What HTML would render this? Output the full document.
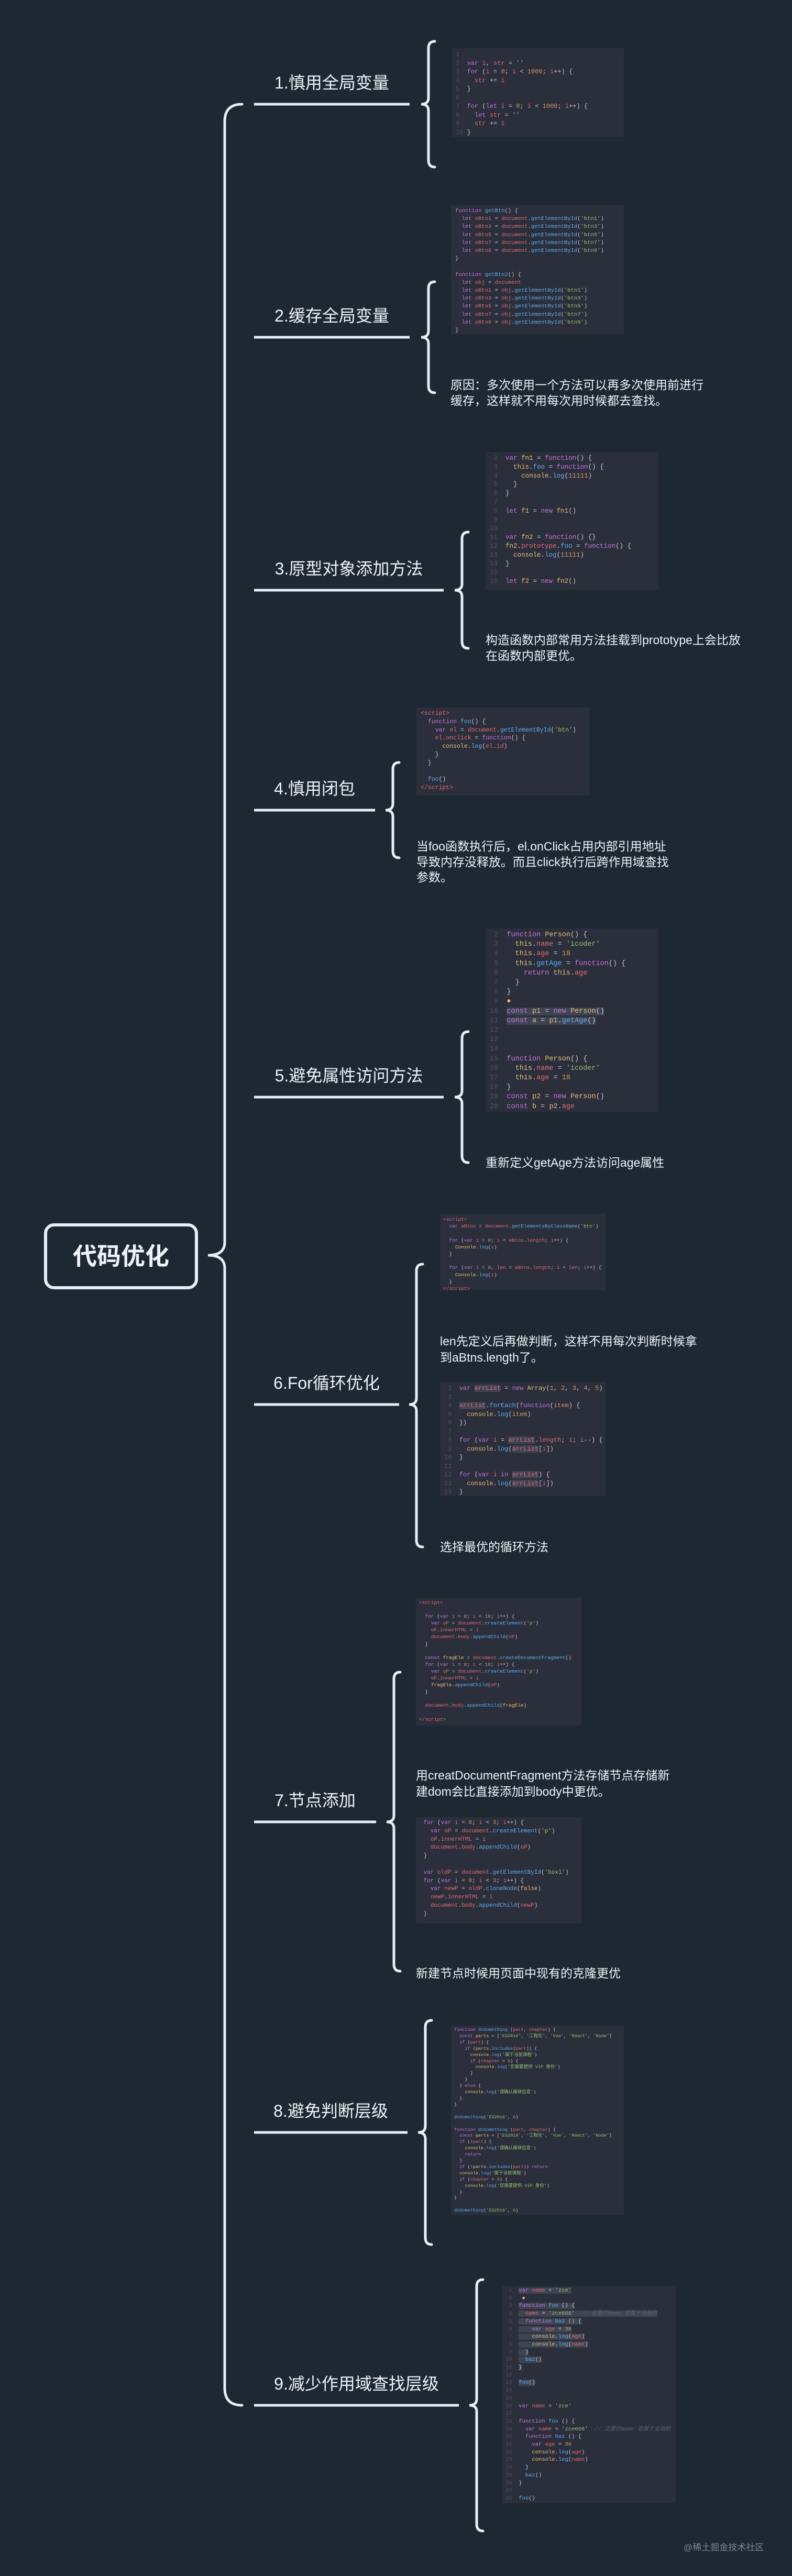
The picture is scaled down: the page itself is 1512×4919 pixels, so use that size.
<!DOCTYPE html>
<html><head><meta charset="utf-8">
<style>
html,body{margin:0;padding:0;}
body{width:1512px;height:4919px;background:#1e2832;position:relative;overflow:hidden;font-family:"Liberation Sans","Noto Sans CJK SC",sans-serif;color:#eef3f8;}
.lbl{position:absolute;font-size:32px;text-align:center;white-space:nowrap;line-height:40px;}
.txt{position:absolute;font-size:23px;line-height:30px;white-space:nowrap;}
.code{position:absolute;background:#2b2e3b;font-family:"Liberation Mono","Noto Sans CJK SC",monospace;white-space:pre;overflow:hidden;color:#c9ccd4;box-sizing:border-box;padding:4px 8px;}
.k{color:#c678dd}.v{color:#e06c75}.f{color:#61afef}.s{color:#98c379}.n{color:#d19a66}.y{color:#e5c07b}.c{color:#5c6370;font-style:italic}.g{color:#4b5263}
.hl{background:#3e4452}
</style></head><body>

<svg width="1512" height="4919" style="position:absolute;left:0;top:0" fill="none" stroke="#e6eef6" stroke-width="5" stroke-linecap="round">
<!-- main brace -->
<path d="M462,199 Q429,199 429,232 L429,2372 Q429,2397 397,2397 Q429,2397 429,2422 L429,4560 Q429,4593 462,4593"/>
<!-- branch lines -->
<g stroke-linecap="butt">
<line x1="485" y1="199" x2="782" y2="199"/>
<line x1="485" y1="644" x2="782" y2="644"/>
<line x1="485" y1="1127" x2="847" y2="1127"/>
<line x1="485" y1="1547" x2="716" y2="1547"/>
<line x1="485" y1="2095" x2="847" y2="2095"/>
<line x1="485" y1="2682" x2="762" y2="2682"/>
<line x1="485" y1="3479" x2="718" y2="3479"/>
<line x1="485" y1="4072" x2="778" y2="4072"/>
<line x1="485" y1="4593" x2="876" y2="4593"/>
</g>
<!-- child braces -->
<path d="M830,79 Q818,79 818,92 L818,187 Q818,199 804,199 Q818,199 818,211 L818,306 Q818,319 830,319"/>
<path d="M830,538 Q818,538 818,551 L818,632 Q818,644 804,644 Q818,644 818,656 L818,737 Q818,750 830,750"/>
<path d="M894,1016 Q882,1016 882,1029 L882,1115 Q882,1127 868,1127 Q882,1127 882,1139 L882,1225 Q882,1238 894,1238"/>
<path d="M762,1456 Q750,1456 750,1469 L750,1535 Q750,1547 736,1547 Q750,1547 750,1559 L750,1625 Q750,1638 762,1638"/>
<path d="M894,1970 Q882,1970 882,1983 L882,2083 Q882,2095 868,2095 Q882,2095 882,2107 L882,2207 Q882,2220 894,2220"/>
<path d="M807,2414 Q795,2414 795,2427 L795,2670 Q795,2682 781,2682 Q795,2682 795,2694 L795,2941 Q795,2954 807,2954"/>
<path d="M764,3193 Q752,3193 752,3206 L752,3467 Q752,3479 738,3479 Q752,3479 752,3491 L752,3751 Q752,3764 764,3764"/>
<path d="M824,3858 Q812,3858 812,3871 L812,4060 Q812,4072 798,4072 Q812,4072 812,4084 L812,4273 Q812,4286 824,4286"/>
<path d="M922,4353 Q910,4353 910,4366 L910,4581 Q910,4593 896,4593 Q910,4593 910,4605 L910,4820 Q910,4833 922,4833"/>
<!-- root box -->
<rect x="87" y="2339" width="288" height="120" rx="16" stroke-width="6"/>
</svg>

<div style="position:absolute;left:84px;top:2339px;width:294px;height:120px;line-height:120px;text-align:center;font-size:46px;font-weight:bold;">代码优化</div>

<div class="lbl" style="left:485px;width:297px;top:138px">1.慎用全局变量</div>
<div class="lbl" style="left:485px;width:297px;top:583px">2.缓存全局变量</div>
<div class="lbl" style="left:485px;width:362px;top:1066px">3.原型对象添加方法</div>
<div class="lbl" style="left:485px;width:231px;top:1486px">4.慎用闭包</div>
<div class="lbl" style="left:485px;width:362px;top:2034px">5.避免属性访问方法</div>
<div class="lbl" style="left:485px;width:277px;top:2621px">6.For循环优化</div>
<div class="lbl" style="left:485px;width:233px;top:3418px">7.节点添加</div>
<div class="lbl" style="left:485px;width:293px;top:4011px">8.避免判断层级</div>
<div class="lbl" style="left:485px;width:391px;top:4532px">9.减少作用域查找层级</div>

<div class="txt" style="left:860px;top:720px">原因：多次使用一个方法可以再多次使用前进行<br>缓存，这样就不用每次用时候都去查找。</div>
<div class="txt" style="left:927px;top:1207px">构造函数内部常用方法挂载到prototype上会比放<br>在函数内部更优。</div>
<div class="txt" style="left:795px;top:1602px;line-height:29.5px">当foo函数执行后，el.onClick占用内部引用地址<br>导致内存没释放。而且click执行后跨作用域查找<br>参数。</div>
<div class="txt" style="left:927px;top:2205px">重新定义getAge方法访问age属性</div>
<div class="txt" style="left:840px;top:2546px;line-height:31px">len先定义后再做判断，这样不用每次判断时候拿<br>到aBtns.length了。</div>
<div class="txt" style="left:840px;top:2939px">选择最优的循环方法</div>
<div class="txt" style="left:794px;top:3375px;line-height:31px">用creatDocumentFragment方法存储节点存储新<br>建dom会比直接添加到body中更优。</div>
<div class="txt" style="left:794px;top:3753px">新建节点时候用页面中现有的克隆更优</div>

<div class="code" style="left:862px;top:92px;width:329px;height:169px;font-size:12px;line-height:16.5px"><span class="g">1</span>
<span class="g">2</span>  <span class="k">var</span> <span class="v">i</span>, <span class="v">str</span> = <span class="s">''</span>
<span class="g">3</span>  <span class="k">for</span> (<span class="v">i</span> = <span class="n">0</span>; <span class="v">i</span> &lt; <span class="n">1000</span>; <span class="v">i</span>++) {
<span class="g">4</span>    <span class="v">str</span> += <span class="v">i</span>
<span class="g">5</span>  }
<span class="g">6</span>
<span class="g">7</span>  <span class="k">for</span> (<span class="k">let</span> <span class="v">i</span> = <span class="n">0</span>; <span class="v">i</span> &lt; <span class="n">1000</span>; <span class="v">i</span>++) {
<span class="g">8</span>    <span class="k">let</span> <span class="v">str</span> = <span class="s">''</span>
<span class="g">9</span>    <span class="v">str</span> += <span class="v">i</span>
<span class="g">10</span> }</div>

<div class="code" style="left:861px;top:392px;width:330px;height:246px;font-size:10.5px;line-height:15.2px"><span class="k">function</span> <span class="f">getBtn</span>() {
  <span class="k">let</span> <span class="v">oBtn1</span> = <span class="v">document</span>.<span class="f">getElementById</span>(<span class="s">'btn1'</span>)
  <span class="k">let</span> <span class="v">oBtn3</span> = <span class="v">document</span>.<span class="f">getElementById</span>(<span class="s">'btn3'</span>)
  <span class="k">let</span> <span class="v">oBtn5</span> = <span class="v">document</span>.<span class="f">getElementById</span>(<span class="s">'btn5'</span>)
  <span class="k">let</span> <span class="v">oBtn7</span> = <span class="v">document</span>.<span class="f">getElementById</span>(<span class="s">'btn7'</span>)
  <span class="k">let</span> <span class="v">oBtn9</span> = <span class="v">document</span>.<span class="f">getElementById</span>(<span class="s">'btn9'</span>)
}

<span class="k">function</span> <span class="f">getBtn2</span>() {
  <span class="k">let</span> <span class="v">obj</span> = <span class="v">document</span>
  <span class="k">let</span> <span class="v">oBtn1</span> = <span class="v">obj</span>.<span class="f">getElementById</span>(<span class="s">'btn1'</span>)
  <span class="k">let</span> <span class="v">oBtn3</span> = <span class="v">obj</span>.<span class="f">getElementById</span>(<span class="s">'btn3'</span>)
  <span class="k">let</span> <span class="v">oBtn5</span> = <span class="v">obj</span>.<span class="f">getElementById</span>(<span class="s">'btn5'</span>)
  <span class="k">let</span> <span class="v">oBtn7</span> = <span class="v">obj</span>.<span class="f">getElementById</span>(<span class="s">'btn7'</span>)
  <span class="k">let</span> <span class="v">oBtn9</span> = <span class="v">obj</span>.<span class="f">getElementById</span>(<span class="s">'btn9'</span>)
}</div>

<div class="code" style="left:927px;top:863px;width:330px;height:263px;font-size:12.5px;line-height:16.8px"><span class="g"> 2</span>  <span class="k">var</span> <span class="y">fn1</span> = <span class="k">function</span>() {
<span class="g"> 3</span>    <span class="y">this</span>.<span class="f">foo</span> = <span class="k">function</span>() {
<span class="g"> 4</span>      <span class="y">console</span>.<span class="f">log</span>(<span class="n">11111</span>)
<span class="g"> 5</span>    }
<span class="g"> 6</span>  }
<span class="g"> 7</span>
<span class="g"> 8</span>  <span class="k">let</span> <span class="y">f1</span> = <span class="k">new</span> <span class="y">fn1</span>()
<span class="g"> 9</span>
<span class="g">10</span>
<span class="g">11</span>  <span class="k">var</span> <span class="y">fn2</span> = <span class="k">function</span>() {}
<span class="g">12</span>  <span class="y">fn2</span>.<span class="v">prototype</span>.<span class="f">foo</span> = <span class="k">function</span>() {
<span class="g">13</span>    <span class="y">console</span>.<span class="f">log</span>(<span class="n">11111</span>)
<span class="g">14</span>  }
<span class="g">15</span>
<span class="g">16</span>  <span class="k">let</span> <span class="y">f2</span> = <span class="k">new</span> <span class="y">fn2</span>()</div>

<div class="code" style="left:795px;top:1351px;width:330px;height:168px;font-size:11.5px;line-height:15.8px"><span class="v">&lt;script&gt;</span>
  <span class="k">function</span> <span class="f">foo</span>() {
    <span class="k">var</span> <span class="v">el</span> = <span class="v">document</span>.<span class="f">getElementById</span>(<span class="s">'btn'</span>)
    <span class="v">el</span>.<span class="v">onclick</span> = <span class="k">function</span>() {
      <span class="y">console</span>.<span class="f">log</span>(<span class="v">el</span>.<span class="v">id</span>)
    }
  }

  <span class="f">foo</span>()
<span class="v">&lt;/script&gt;</span></div>

<div class="code" style="left:927px;top:1773px;width:330px;height:350px;font-size:13.5px;line-height:18.2px"><span class="g"> 2</span>  <span class="k">function</span> <span class="y">Person</span>() {
<span class="g"> 3</span>    <span class="y">this</span>.<span class="v">name</span> = <span class="s">'icoder'</span>
<span class="g"> 4</span>    <span class="y">this</span>.<span class="v">age</span> = <span class="n">18</span>
<span class="g"> 5</span>    <span class="y">this</span>.<span class="f">getAge</span> = <span class="k">function</span>() {
<span class="g"> 6</span>      <span class="k">return</span> <span class="y">this</span>.<span class="v">age</span>
<span class="g"> 7</span>    }
<span class="g"> 8</span>  }
<span class="g"> 9</span>  <span class="y">●</span>
<span class="g">10</span>  <span class="hl"><span class="k">const</span> <span class="y">p1</span> = <span class="k">new</span> <span class="y">Person</span>()</span>
<span class="g">11</span>  <span class="hl"><span class="k">const</span> <span class="y">a</span> = <span class="y">p1</span>.<span class="f">getAge</span>()</span>
<span class="g">12</span>
<span class="g">13</span>
<span class="g">14</span>
<span class="g">15</span>  <span class="k">function</span> <span class="y">Person</span>() {
<span class="g">16</span>    <span class="y">this</span>.<span class="v">name</span> = <span class="s">'icoder'</span>
<span class="g">17</span>    <span class="y">this</span>.<span class="v">age</span> = <span class="n">18</span>
<span class="g">18</span>  }
<span class="g">19</span>  <span class="k">const</span> <span class="y">p2</span> = <span class="k">new</span> <span class="y">Person</span>()
<span class="g">20</span>  <span class="k">const</span> <span class="y">b</span> = <span class="y">p2</span>.<span class="v">age</span></div>

<div class="code" style="left:840px;top:2318px;width:316px;height:146px;font-size:9.5px;line-height:13.2px;padding:4px 6px"><span class="v">&lt;script&gt;</span>
  <span class="k">var</span> <span class="v">aBtns</span> = <span class="v">document</span>.<span class="f">getElementsByClassName</span>(<span class="s">'btn'</span>)

  <span class="k">for</span> (<span class="k">var</span> <span class="v">i</span> = <span class="n">0</span>; <span class="v">i</span> &lt; <span class="v">aBtns</span>.<span class="v">length</span>; <span class="v">i</span>++) {
    <span class="y">Console</span>.<span class="f">log</span>(<span class="v">i</span>)
  }

  <span class="k">for</span> (<span class="k">var</span> <span class="v">i</span> = <span class="n">0</span>, <span class="v">len</span> = <span class="v">aBtns</span>.<span class="v">length</span>; <span class="v">i</span> &lt; <span class="v">len</span>; <span class="v">i</span>++) {
    <span class="y">Console</span>.<span class="f">log</span>(<span class="v">i</span>)
  }
<span class="v">&lt;/script&gt;</span></div>

<div class="code" style="left:840px;top:2639px;width:316px;height:218px;font-size:12px;line-height:16.5px"><span class="g"> 2</span>  <span class="k">var</span> <span class="hl v">arrList</span> = <span class="k">new</span> <span class="y">Array</span>(<span class="n">1</span>, <span class="n">2</span>, <span class="n">3</span>, <span class="n">4</span>, <span class="n">5</span>)
<span class="g"> 3</span>
<span class="g"> 4</span>  <span class="hl v">arrList</span>.<span class="f">forEach</span>(<span class="k">function</span>(<span class="n">item</span>) {
<span class="g"> 5</span>    <span class="y">console</span>.<span class="f">log</span>(<span class="n">item</span>)
<span class="g"> 6</span>  })
<span class="g"> 7</span>
<span class="g"> 8</span>  <span class="k">for</span> (<span class="k">var</span> <span class="v">i</span> = <span class="hl v">arrList</span>.<span class="v">length</span>; <span class="v">i</span>; <span class="v">i</span>--) {
<span class="g"> 9</span>    <span class="y">console</span>.<span class="f">log</span>(<span class="hl v">arrList</span>[<span class="v">i</span>])
<span class="g">10</span>  }
<span class="g">11</span>
<span class="g">12</span>  <span class="k">for</span> (<span class="k">var</span> <span class="v">i</span> <span class="k">in</span> <span class="hl v">arrList</span>) {
<span class="g">13</span>    <span class="y">console</span>.<span class="f">log</span>(<span class="hl v">arrList</span>[<span class="v">i</span>])
<span class="g">14</span>  }</div>

<div class="code" style="left:794px;top:3051px;width:316px;height:244px;font-size:9.5px;line-height:13.1px;padding:3px 6px"><span class="v">&lt;script&gt;</span>

  <span class="k">for</span> (<span class="k">var</span> <span class="v">i</span> = <span class="n">0</span>; <span class="v">i</span> &lt; <span class="n">10</span>; <span class="v">i</span>++) {
    <span class="k">var</span> <span class="v">oP</span> = <span class="v">document</span>.<span class="f">createElement</span>(<span class="s">'p'</span>)
    <span class="v">oP</span>.<span class="v">innerHTML</span> = <span class="v">i</span>
    <span class="v">document</span>.<span class="v">body</span>.<span class="f">appendChild</span>(<span class="v">oP</span>)
  }

  <span class="k">const</span> <span class="y">fragEle</span> = <span class="v">document</span>.<span class="f">createDocumentFragment</span>()
  <span class="k">for</span> (<span class="k">var</span> <span class="v">i</span> = <span class="n">0</span>; <span class="v">i</span> &lt; <span class="n">10</span>; <span class="v">i</span>++) {
    <span class="k">var</span> <span class="v">oP</span> = <span class="v">document</span>.<span class="f">createElement</span>(<span class="s">'p'</span>)
    <span class="v">oP</span>.<span class="v">innerHTML</span> = <span class="v">i</span>
    <span class="y">fragEle</span>.<span class="f">appendChild</span>(<span class="v">oP</span>)
  }

  <span class="v">document</span>.<span class="v">body</span>.<span class="f">appendChild</span>(<span class="y">fragEle</span>)

<span class="v">&lt;/script&gt;</span></div>

<div class="code" style="left:794px;top:3470px;width:316px;height:203px;font-size:11px;line-height:15.8px"> <span class="k">for</span> (<span class="k">var</span> <span class="v">i</span> = <span class="n">0</span>; <span class="v">i</span> &lt; <span class="n">3</span>; <span class="v">i</span>++) {
   <span class="k">var</span> <span class="v">oP</span> = <span class="v">document</span>.<span class="f">createElement</span>(<span class="s">'p'</span>)
   <span class="v">oP</span>.<span class="v">innerHTML</span> = <span class="v">i</span>
   <span class="v">document</span>.<span class="v">body</span>.<span class="f">appendChild</span>(<span class="v">oP</span>)
 }

 <span class="k">var</span> <span class="v">oldP</span> = <span class="v">document</span>.<span class="f">getElementById</span>(<span class="s">'box1'</span>)
 <span class="k">for</span> (<span class="k">var</span> <span class="v">i</span> = <span class="n">0</span>; <span class="v">i</span> &lt; <span class="n">3</span>; <span class="v">i</span>++) {
   <span class="k">var</span> <span class="v">newP</span> = <span class="v">oldP</span>.<span class="f">cloneNode</span>(<span class="y">false</span>)
   <span class="v">newP</span>.<span class="v">innerHTML</span> = <span class="v">i</span>
   <span class="v">document</span>.<span class="v">body</span>.<span class="f">appendChild</span>(<span class="v">newP</span>)
 }</div>

<div class="code" style="left:861px;top:3868px;width:330px;height:362px;font-size:8.5px;line-height:11.9px;padding:3px 6px"><span class="k">function</span> <span class="f">doSomething</span> (<span class="v">part</span>, <span class="v">chapter</span>) {
  <span class="k">const</span> <span class="y">parts</span> = [<span class="s">'ES2016'</span>, <span class="s">'工程化'</span>, <span class="s">'Vue'</span>, <span class="s">'React'</span>, <span class="s">'Node'</span>]
  <span class="k">if</span> (<span class="v">part</span>) {
    <span class="k">if</span> (<span class="y">parts</span>.<span class="f">includes</span>(<span class="v">part</span>)) {
      <span class="y">console</span>.<span class="f">log</span>(<span class="s">'属于当前课程'</span>)
      <span class="k">if</span> (<span class="v">chapter</span> &gt; <span class="n">5</span>) {
        <span class="y">console</span>.<span class="f">log</span>(<span class="s">'您需要提供 VIP 身份'</span>)
      }
    }
  } <span class="k">else</span> {
    <span class="y">console</span>.<span class="f">log</span>(<span class="s">'请确认模块信息'</span>)
  }
}

<span class="f">doSomething</span>(<span class="s">'ES2016'</span>, <span class="n">6</span>)

<span class="k">function</span> <span class="f">doSomething</span> (<span class="v">part</span>, <span class="v">chapter</span>) {
  <span class="k">const</span> <span class="y">parts</span> = [<span class="s">'ES2016'</span>, <span class="s">'工程化'</span>, <span class="s">'Vue'</span>, <span class="s">'React'</span>, <span class="s">'Node'</span>]
  <span class="k">if</span> (!<span class="v">part</span>) {
    <span class="y">console</span>.<span class="f">log</span>(<span class="s">'请确认模块信息'</span>)
    <span class="k">return</span>
  }
  <span class="k">if</span> (!<span class="y">parts</span>.<span class="f">includes</span>(<span class="v">part</span>)) <span class="k">return</span>
  <span class="y">console</span>.<span class="f">log</span>(<span class="s">'属于当前课程'</span>)
  <span class="k">if</span> (<span class="v">chapter</span> &gt; <span class="n">5</span>) {
    <span class="y">console</span>.<span class="f">log</span>(<span class="s">'您需要提供 VIP 身份'</span>)
  }
}

<span class="f">doSomething</span>(<span class="s">'ES2016'</span>, <span class="n">6</span>)</div>

<div class="code" style="left:959px;top:4365px;width:331px;height:415px;font-size:10.5px;line-height:14.7px;padding:2px 6px"><span class="g"> 1</span>  <span class="hl"><span class="k">var</span> <span class="v">name</span> = <span class="s">'zce'</span></span>
<span class="g"> 2</span>   <span class="y">●</span>
<span class="g"> 3</span>  <span class="hl"><span class="k">function</span> <span class="f">foo</span> () {</span>
<span class="g"> 4</span>  <span class="hl">  <span class="v">name</span> = <span class="s">'zce666'</span>  <span class="c">// 这里的Name 是属于全局的</span></span>
<span class="g"> 5</span>  <span class="hl">  <span class="k">function</span> <span class="f">baz</span> () {</span>
<span class="g"> 6</span>  <span class="hl">    <span class="k">var</span> <span class="v">age</span> = <span class="n">38</span></span>
<span class="g"> 7</span>  <span class="hl">    <span class="y">console</span>.<span class="f">log</span>(<span class="v">age</span>)</span>
<span class="g"> 8</span>  <span class="hl">    <span class="y">console</span>.<span class="f">log</span>(<span class="v">name</span>)</span>
<span class="g"> 9</span>  <span class="hl">  }</span>
<span class="g">10</span>  <span class="hl">  <span class="f">baz</span>()</span>
<span class="g">11</span>  <span class="hl">}</span>
<span class="g">12</span>
<span class="g">13</span>  <span class="hl"><span class="f">foo</span>()</span>
<span class="g">14</span>
<span class="g">15</span>
<span class="g">16</span>  <span class="k">var</span> <span class="v">name</span> = <span class="s">'zce'</span>
<span class="g">17</span>
<span class="g">18</span>  <span class="k">function</span> <span class="f">foo</span> () {
<span class="g">19</span>    <span class="k">var</span> <span class="v">name</span> = <span class="s">'zce666'</span>  <span class="c">// 这里的Name 是属于全局的</span>
<span class="g">20</span>    <span class="k">function</span> <span class="f">baz</span> () {
<span class="g">21</span>      <span class="k">var</span> <span class="v">age</span> = <span class="n">38</span>
<span class="g">22</span>      <span class="y">console</span>.<span class="f">log</span>(<span class="v">age</span>)
<span class="g">23</span>      <span class="y">console</span>.<span class="f">log</span>(<span class="v">name</span>)
<span class="g">24</span>    }
<span class="g">25</span>    <span class="f">baz</span>()
<span class="g">26</span>  }
<span class="g">27</span>
<span class="g">28</span>  <span class="f">foo</span>()</div>

<div style="position:absolute;left:1305px;top:4850px;font-size:17px;color:#7d8690;white-space:nowrap">@稀土掘金技术社区</div>
</body></html>
